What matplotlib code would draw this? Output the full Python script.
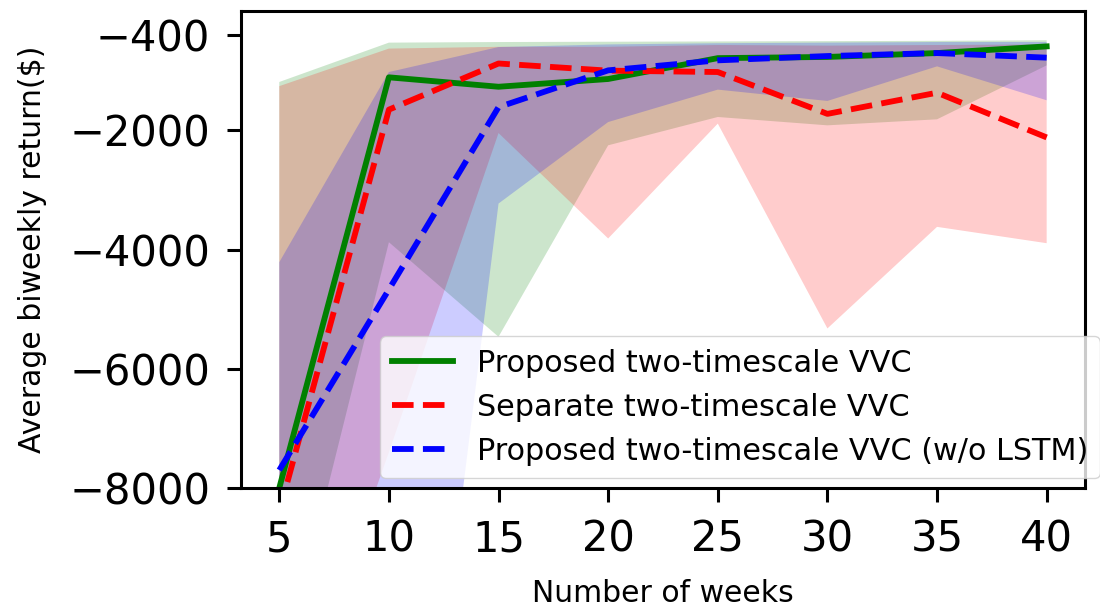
import numpy as np
import matplotlib
matplotlib.use('Agg')
import matplotlib.pyplot as plt

# data
weeks = [5, 10, 15, 20, 25, 30, 35, 40]

proposed = [-8000, -1112, -1270, -1140, -790, -770, -705, -593]
proposed_low = [-11250, -3877, -5464, -2252, -1777, -1917, -1816, -911]
proposed_high = [-1190, -530, -520, -515, -510, -505, -500, -490]

separate = [-8400, -1654, -880, -1000, -1023, -1725, -1370, -2120]
separate_low = [-12600, -7400, -2046, -3815, -1888, -5324, -3620, -3894]
separate_high = [-1260, -630, -600, -600, -570, -580, -570, -560]

no_lstm = [-7700, -4670, -1612, -995, -827, -755, -705, -782]
no_lstm_low = [-15000, -18000, -3229, -1862, -1318, -1508, -928, -1497]
no_lstm_high = [-4213, -1023, -604, -560, -540, -530, -520, -520]

labels = ['Proposed two-timescale VVC',
          'Separate two-timescale VVC',
          'Proposed two-timescale VVC (w/o LSTM)']

fig = plt.figure(figsize=(11, 6.06), dpi=100)
ax = fig.add_subplot(111)
fig.subplots_adjust(left=0.219, right=0.9864, bottom=0.1947, top=0.9818)

# shaded ranges
ax.fill_between(weeks, proposed_low, proposed_high, color='green', alpha=0.2, linewidth=0)
ax.fill_between(weeks, separate_low, separate_high, color='red', alpha=0.2, linewidth=0)
ax.fill_between(weeks, no_lstm_low, no_lstm_high, color='blue', alpha=0.2, linewidth=0)

# mean curves
ax.plot(weeks, proposed, color='green', linewidth=4.2, label=labels[0])
ax.plot(weeks, separate, color='red', linestyle='--', linewidth=4.2, label=labels[1])
ax.plot(weeks, no_lstm, color='blue', linestyle='--', linewidth=4.2, label=labels[2])

ax.set_ylim(-8000, 0)
ax.set_yticks([-8000, -6000, -4000, -2000, -400])
ax.set_xticks(weeks)

for s in ax.spines.values():
    s.set_linewidth(2.2)
ax.tick_params(labelsize=30, length=10, width=2.2, pad=12)

ax.set_xlabel('Number of weeks', fontsize=21.5)
ax.set_ylabel('Average biweekly return($)', fontsize=21.5)
ax.xaxis.set_label_coords(0.5, -0.19)
ax.yaxis.set_label_coords(-0.23, 0.5)

ax.legend(loc='lower right', bbox_to_anchor=(1.018, 0.021), borderaxespad=0,
          fontsize=21.8)

plt.savefig('out.png', dpi=100)
